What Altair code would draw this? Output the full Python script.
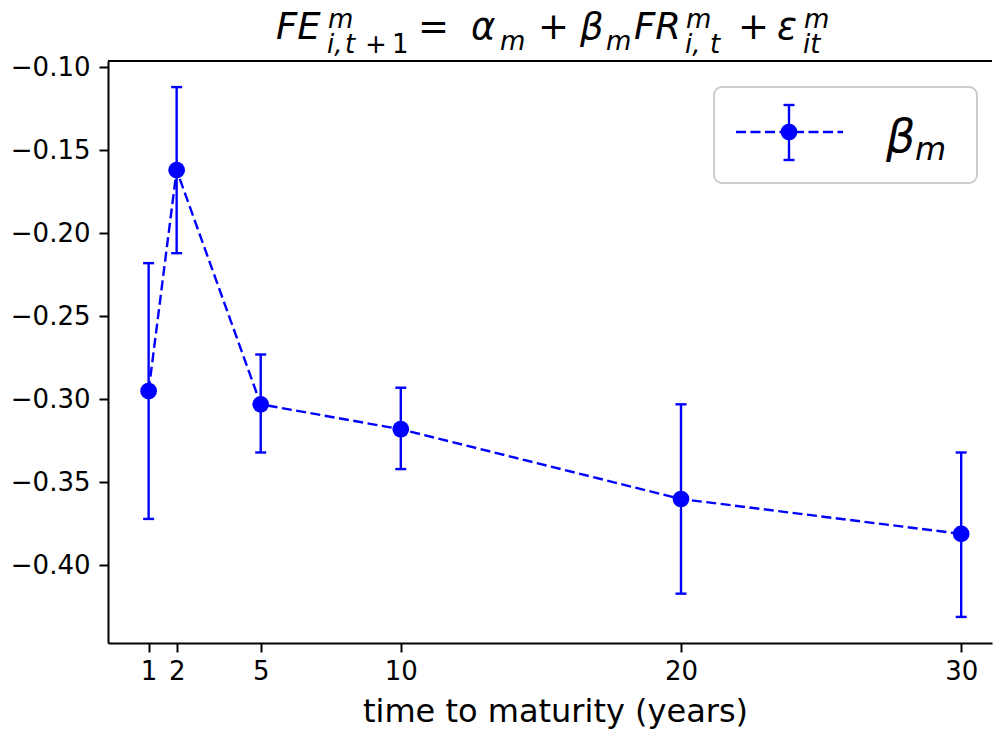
import altair as alt
import pandas as pd

# ---- data ----
maturity = [1, 2, 5, 10, 20, 30]
beta = [-0.295, -0.162, -0.303, -0.318, -0.360, -0.381]
err_low = [-0.372, -0.212, -0.332, -0.342, -0.417, -0.431]
err_high = [-0.218, -0.112, -0.273, -0.293, -0.303, -0.332]
x_ticks = [1, 2, 5, 10, 20, 30]
y_ticks = [-0.40, -0.35, -0.30, -0.25, -0.20, -0.15, -0.10]
x_title = "time to maturity (years)"

df = pd.DataFrame({"maturity": maturity, "beta": beta, "low": err_low, "high": err_high})
one = pd.DataFrame({"d": [0]})

BLUE = "#0000ff"
W, H = 884, 582
FONT = "DejaVu Sans"
LW = 2.4
DASH = [10, 4.5]

xs = alt.Scale(domain=[-0.45, 31.1], nice=False, zero=False)
ys = alt.Scale(domain=[-0.4467, -0.0963], nice=False, zero=False)
xaxis = alt.Axis(values=x_ticks, format="d", title=x_title, labelOverlap=False,
                 titleBaseline="alphabetic", titleY=78, titleX=447, labelPadding=6)
yaxis = alt.Axis(values=y_ticks, format=".2f", title=None, labelPadding=9)


def X(field="maturity"):
    return alt.X(f"{field}:Q", scale=xs, axis=xaxis)


def Y(field):
    return alt.Y(f"{field}:Q", scale=ys, axis=yaxis)


base = alt.Chart(df)
line = base.mark_line(color=BLUE, strokeWidth=LW, strokeDash=DASH).encode(x=X(), y=Y("beta"))
err = base.mark_rule(color=BLUE, strokeWidth=LW).encode(x=X(), y=Y("low"), y2="high:Q")
cap_lo = base.mark_tick(color=BLUE, orient="horizontal", size=11, thickness=LW, opacity=1).encode(x=X(), y=Y("low"))
cap_hi = base.mark_tick(color=BLUE, orient="horizontal", size=11, thickness=LW, opacity=1).encode(x=X(), y=Y("high"))
pts = base.mark_point(filled=True, color=BLUE, size=280, opacity=1).encode(x=X(), y=Y("beta"))

top_border = alt.Chart(one).mark_rule(color="black", strokeWidth=2).encode(
    x=alt.value(0), x2=alt.value(W), y=alt.value(0))


def txt(s, x, y, size, italic=True):
    return alt.Chart(one).mark_text(
        text=s, align="left", baseline="alphabetic", fontSize=size, font=FONT,
        fontStyle="italic" if italic else "normal", color="black"
    ).encode(x=alt.value(x), y=alt.value(y))


M, S = 37, 26
mb, sub_b, sup_b = -22.5, -8, -33.5
title_parts = [
    txt("FE", 168, mb, M),
    txt("m", 220, sup_b, S),
    txt("i,", 219, sub_b, S),
    txt("t", 237, sub_b, S),
    txt("+", 257, sub_b, S, False),
    txt("1", 284, sub_b, S, False),
    txt("=", 310, mb, M, False),
    txt("α", 363, mb, M),
    txt("m", 392, sub_b - 3, S),
    txt("+", 430, mb, M, False),
    txt("β", 472, mb, M),
    txt("m", 498, sub_b - 3, S),
    txt("FR", 526, mb, M),
    txt("m", 578, sup_b, S),
    txt("i,", 577, sub_b, S),
    txt("t", 602, sub_b, S),
    txt("+", 630, mb, M, False),
    txt("ε", 669, mb, M),
    txt("m", 696, sup_b, S),
    txt("it", 695, sub_b, S),
]

# ---- legend (drawn by hand, matplotlib style) ----
leg_box = alt.Chart(one).mark_rect(
    fill="white", fillOpacity=0.8, stroke="#cccccc", strokeWidth=2, cornerRadius=8
).encode(x=alt.value(606), x2=alt.value(869), y=alt.value(26), y2=alt.value(122))
leg_line = alt.Chart(one).mark_rule(color=BLUE, strokeWidth=LW, strokeDash=DASH).encode(
    x=alt.value(628), x2=alt.value(735), y=alt.value(71))
leg_err = alt.Chart(one).mark_rule(color=BLUE, strokeWidth=LW).encode(
    x=alt.value(681), y=alt.value(44), y2=alt.value(99))
leg_cap1 = alt.Chart(one).mark_rule(color=BLUE, strokeWidth=LW).encode(
    x=alt.value(675.5), x2=alt.value(686.5), y=alt.value(44))
leg_cap2 = alt.Chart(one).mark_rule(color=BLUE, strokeWidth=LW).encode(
    x=alt.value(675.5), x2=alt.value(686.5), y=alt.value(99))
leg_pt = alt.Chart(one).mark_point(filled=True, color=BLUE, size=280, opacity=1).encode(
    x=alt.value(681), y=alt.value(71))
leg_txt1 = txt("β", 778, 91, 46)
leg_txt2 = txt("m", 807, 99, 32)

chart = alt.layer(
    line, err, cap_lo, cap_hi, pts, top_border,
    leg_box, leg_line, leg_err, leg_cap1, leg_cap2, leg_pt, leg_txt1, leg_txt2,
    *title_parts
).properties(
    width=W, height=H,
    autosize=alt.AutoSizeParams(type="none"),
    padding={"left": 108, "top": 61, "right": 1, "bottom": 88},
    background="white",
).configure_view(stroke=None).configure_axis(
    domainColor="black", domainWidth=2, tickColor="black", tickWidth=2, tickSize=9,
    labelFont=FONT, labelFontSize=26, labelColor="black", grid=False,
    titleFont=FONT, titleFontSize=32, titleColor="black", titleFontWeight="normal",
)

chart.save("out.html", embed_options={"renderer": "svg", "actions": False})
